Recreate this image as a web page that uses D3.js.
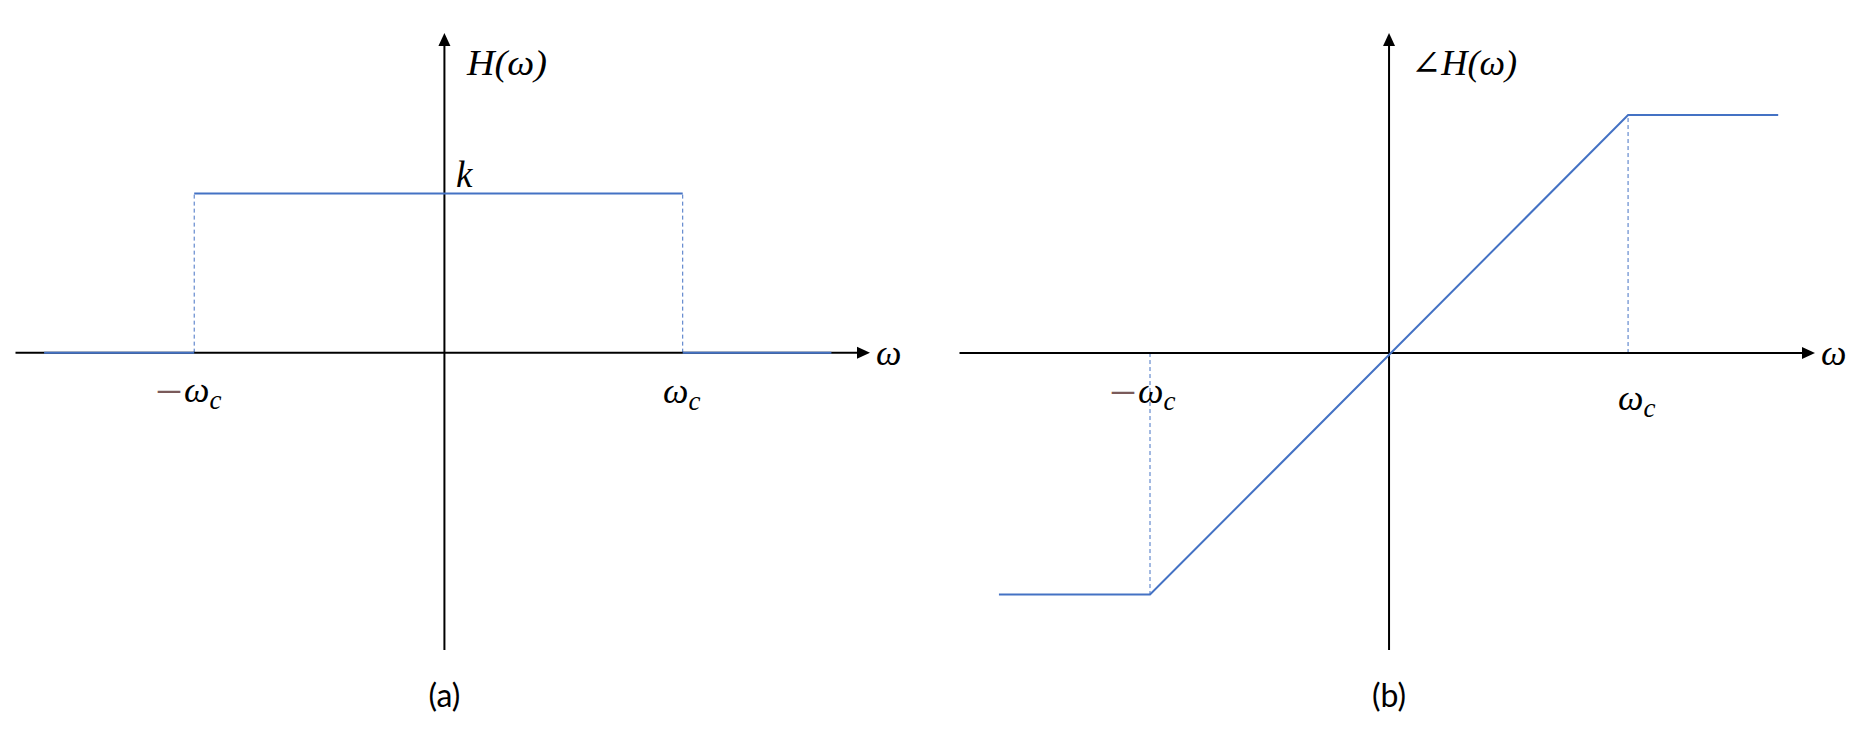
<!DOCTYPE html>
<html>
<head>
<meta charset="utf-8">
<script src="https://cdn.jsdelivr.net/npm/d3@7"></script>
<style>
  html, body { margin: 0; padding: 0; background: #fff; }
  svg { display: block; }
  .math { font-family: "Liberation Serif", "DejaVu Serif", serif; font-style: italic; }
  .cap { font-family: Lato, "Open Sans", sans-serif; }
</style>
</head>
<body>
<svg id="chart" width="1876" height="738"></svg>
<script>
// ---------- data ----------
// Panel (a): magnitude |H(ω)| of an ideal low-pass filter (ω in units of ω_c, value in units of k)
// NaN entries break the solid line (the jumps at ±ω_c are drawn dashed)
const magOmega = [-1.68, -1.05, NaN, -1.05, 1.0, NaN, 1.0, 1.624];
const magValue = [0, 0, NaN, 1, 1, NaN, 0, 0];
const magDashedOmega = [-1.05, 1.0];       // dashed drop lines at ±ω_c
const magAxisX = [-1.80, 1.786];           // ω-axis extent
const magAxisY = [-1.87, 2.01];            // H-axis extent

// Panel (b): phase ∠H(ω) (linear phase, clipped outside ±ω_c)
const phaseOmega = [-1.632, -1.0, 1.0, 1.628];
const phaseValue = [-1.015, -1.015, 1.0, 1.0];
const phaseAxisX = [-1.797, 1.782];
const phaseAxisY = [-1.248, 1.345];

// labels
const magTitle = "H(ω)";
const phaseTitle = "∠H(ω)";
const kLabel = "k";
const axisLabel = "ω";
const captions = ["(a)", "(b)"];

// ---------- drawing ----------
const svg = d3.select("#chart");
const BLUE = "#4472C4";
const MINUS = "#7a5a5a";

function panel(cfg) {
  const x = d3.scaleLinear().domain(cfg.axisX).range(cfg.xRange);
  const y = d3.scaleLinear().domain(cfg.axisY).range(cfg.yRange);
  const g = svg.append("g");

  // dashed drop lines
  g.selectAll("line.drop").data(cfg.drops).join("line")
    .attr("class", "drop")
    .attr("x1", d => x(d[0])).attr("x2", d => x(d[0]))
    .attr("y1", y(0)).attr("y2", d => y(d[1]))
    .attr("stroke", BLUE).attr("stroke-width", 1)
    .attr("stroke-dasharray", "4,3");

  // axes
  const ax = x(cfg.axisX[1]);
  g.append("line")
    .attr("x1", x(cfg.axisX[0])).attr("x2", ax - 10)
    .attr("y1", y(0)).attr("y2", y(0))
    .attr("stroke", "#000").attr("stroke-width", 2);
  g.append("path")
    .attr("d", `M${ax},${y(0)} L${ax - 13},${y(0) - 6} L${ax - 13},${y(0) + 6} Z`)
    .attr("fill", "#000");
  const ay = y(cfg.axisY[1]);
  g.append("line")
    .attr("x1", x(0)).attr("x2", x(0))
    .attr("y1", ay + 10).attr("y2", y(cfg.axisY[0]))
    .attr("stroke", "#000").attr("stroke-width", 2);
  g.append("path")
    .attr("d", `M${x(0)},${ay} L${x(0) - 6},${ay + 13} L${x(0) + 6},${ay + 13} Z`)
    .attr("fill", "#000");

  // main curve
  const pts = cfg.omega.map((w, i) => [w, cfg.values[i]]);
  g.append("path")
    .datum(pts)
    .attr("d", d3.line()
      .defined(d => !isNaN(d[0]) && !isNaN(d[1]))
      .x(d => x(d[0])).y(d => y(d[1])))
    .attr("fill", "none").attr("stroke", BLUE).attr("stroke-width", 2);

  // axis label ω
  g.append("text").attr("class", "math")
    .attr("x", ax + 6).attr("y", y(0) + 12)
    .attr("font-size", 36).text(axisLabel);

  // title
  g.append("text").attr("class", "math")
    .attr("x", cfg.titleX).attr("y", 75)
    .attr("font-size", 35)
    .attr("textLength", cfg.titleLen).attr("lengthAdjust", "spacingAndGlyphs")
    .text(cfg.title);

  // ω_c labels
  cfg.wcLabels.forEach(l => {
    const t = g.append("text").attr("class", "math")
      .attr("x", l.x).attr("y", l.y).attr("font-size", 36);
    if (l.neg) {
      t.append("tspan").attr("fill", MINUS)
        .style("font-style", "normal")
        .attr("font-size", 44).text("–");
    }
    t.append("tspan").attr("dx", l.neg ? 4 : 0).text("ω");
    t.append("tspan").attr("font-size", 27).attr("dy", 7).text("c");
  });

  // caption
  g.append("text").attr("class", "cap")
    .attr("x", x(0)).attr("y", 707)
    .attr("text-anchor", "middle").attr("font-size", 32)
    .text(cfg.caption);

  return { g, x, y };
}

const a = panel({
  axisX: magAxisX, axisY: magAxisY,
  xRange: [15.5, 870], yRange: [650, 33],
  omega: magOmega, values: magValue,
  drops: magDashedOmega.map(w => [w, 1]),
  title: magTitle, titleX: 467, titleLen: 80,
  wcLabels: [{ x: 158, y: 402, neg: true }, { x: 663, y: 403, neg: false }],
  caption: captions[0]
});
// k label
a.g.append("text").attr("class", "math")
  .attr("x", 456).attr("y", 187).attr("font-size", 37).text(kLabel);

panel({
  axisX: phaseAxisX, axisY: phaseAxisY,
  xRange: [959.5, 1815], yRange: [650, 33],
  omega: phaseOmega, values: phaseValue,
  drops: [[phaseOmega[1], phaseValue[1]], [phaseOmega[2], phaseValue[2]]],
  title: phaseTitle, titleX: 1411, titleLen: 106,
  wcLabels: [{ x: 1112, y: 403, neg: true }, { x: 1618, y: 410, neg: false }],
  caption: captions[1]
});
</script>
</body>
</html>
